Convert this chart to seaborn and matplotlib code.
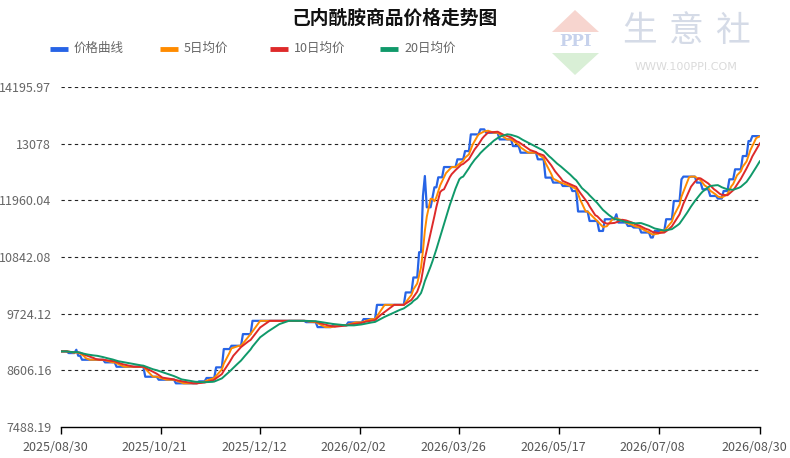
import numpy as np
import pandas as pd
import seaborn as sns
import matplotlib.pyplot as plt
from matplotlib.lines import Line2D
from matplotlib.patches import Polygon
from matplotlib.transforms import ScaledTranslation

# 起止日期
start = pd.Timestamp("2025-08-30")
end = pd.Timestamp("2026-08-30")

# 价格变动日(距起始日的天数)及当日价格
change_day = [0, 4, 8, 9, 11, 23, 29, 44, 51, 60, 72, 76, 81, 85, 89, 95, 100, 128, 134, 142,
              150, 158, 165, 180, 184, 187, 189, 190, 191, 194, 195, 197, 200, 207, 211, 214, 219, 222, 229, 236,
              240, 249, 253, 257, 262, 267, 270, 276, 281, 284, 290, 291, 296, 299, 303, 308, 310, 316, 320, 324,
              325, 332, 335, 339, 343, 346, 349, 352, 356, 359, 361]
change_price = [8980, 8947, 9012, 8894, 8815, 8764, 8677, 8480, 8421, 8350, 8389, 8455, 8665, 9026, 9091, 9321, 9583, 9557, 9459, 9498,
                9552, 9617, 9898, 10143, 10438, 10937, 12046, 12440, 11823, 12020, 12217, 12414, 12617, 12769, 12932, 13261, 13360, 13294, 13162, 13030,
                12900, 12769, 12408, 12310, 12243, 12144, 11740, 11553, 11356, 11587, 11685, 11522, 11455, 11424, 11325, 11227, 11356, 11587, 11947, 12375,
                12428, 12310, 12178, 12046, 11995, 12144, 12375, 12572, 12834, 13129, 13227]

y_ticks = [7488.19, 8606.16, 9724.12, 10842.08, 11960.04, 13078, 14195.97]
y_labels = ["7488.19", "8606.16", "9724.12", "10842.08", "11960.04", "13078", "14195.97"]

series_names = ["价格曲线", "5日均价", "10日均价", "20日均价"]
series_colors = ["#2764e6", "#ff8b00", "#de2a2a", "#10996a"]

# 日度价格(价格在变动日之间保持不变)
dates = pd.date_range(start, end, freq="D")
price = pd.Series(change_price, index=start + pd.to_timedelta(change_day, unit="D"))
price = price.reindex(dates).ffill()

df = pd.DataFrame({
    "date": dates,
    "价格曲线": price.values,
    "5日均价": price.rolling(5, min_periods=1).mean().values,
    "10日均价": price.rolling(10, min_periods=1).mean().values,
    "20日均价": price.rolling(20, min_periods=1).mean().values,
})
long_df = df.melt(id_vars="date", var_name="series", value_name="value")

sns.set_style("white")
plt.rcParams["font.family"] = ["Noto Sans CJK SC", "DejaVu Sans"]

W, H = 790, 458
fig = plt.figure(figsize=(W / 100, H / 100), dpi=100)
ax = fig.add_axes([61 / W, 1 - 427 / H, (760 - 61) / W, (427 - 87) / H])

sns.lineplot(data=long_df, x="date", y="value", hue="series", hue_order=series_names,
             palette=dict(zip(series_names, series_colors)), estimator=None,
             linewidth=1.4, legend=False, ax=ax)
ax.lines[0].set_linewidth(1.6)

ax.set_xlim(start, end)
ax.set_ylim(y_ticks[0], y_ticks[-1])
ax.set_yticks(y_ticks)
ax.set_yticklabels(y_labels)
x_ticks = [start + pd.Timedelta(days=52 * k) for k in range(7)] + [end]
ax.set_xticks(x_ticks)
ax.set_xticklabels([d.strftime("%Y/%m/%d") for d in x_ticks])
ax.set_xlabel("")
ax.set_ylabel("")

for v in y_ticks[1:]:
    ax.axhline(v, color="#222222", linewidth=0.8, linestyle=(0, (3, 3)), zorder=0)

for s in ["left", "right", "top"]:
    ax.spines[s].set_visible(False)
ax.spines["bottom"].set_color("black")
ax.spines["bottom"].set_linewidth(1)
ax.tick_params(axis="y", length=0, pad=7, labelsize=9, labelcolor="#666666")
ax.tick_params(axis="x", length=5, width=1, color="black", pad=5, labelsize=9, labelcolor="#555555",
               bottom=True)
for lab in ax.get_xticklabels():
    lab.set_transform(lab.get_transform() + ScaledTranslation(-6 / 100, 0, fig.dpi_scale_trans))


def px(x, y):
    return x / W, 1 - y / H


# 标题
fig.text(*px(395, 18), "己内酰胺商品价格走势图", ha="center", va="center",
         fontsize=13.5, fontweight="bold", color="#111111")

# 图例
for i, (name, color) in enumerate(zip(series_names, series_colors)):
    x0 = 50 + 110 * i
    fig.add_artist(Line2D([x0 / W, (x0 + 18) / W], [1 - 48.5 / H] * 2, color=color,
                          linewidth=3.5, solid_capstyle="butt", transform=fig.transFigure))
    fig.text(*px(x0 + 24, 48.5), name, ha="left", va="center", fontsize=9, color="#666666")

# 水印
fig.add_artist(Polygon([px(552, 32), px(599, 32), px(575, 10)], closed=True,
                       facecolor="#f7d5cf", edgecolor="none", transform=fig.transFigure))
fig.add_artist(Polygon([px(552, 53), px(599, 53), px(575, 75)], closed=True,
                       facecolor="#d9efd6", edgecolor="none", transform=fig.transFigure))
fig.text(*px(575, 42), "PPI", ha="center", va="center", fontsize=12, fontweight="bold",
         family="DejaVu Serif", color="#c7d2ec")
for ch, cx in zip("生意社", [640, 686, 732]):
    fig.text(*px(cx, 31), ch, ha="center", va="center", fontsize=25, color="#d5dbe7")
fig.text(*px(686, 67), "WWW.100PPI.COM", ha="center", va="center", fontsize=8, color="#dadada",
         family="DejaVu Sans")

fig.savefig("out.png", dpi=100)
